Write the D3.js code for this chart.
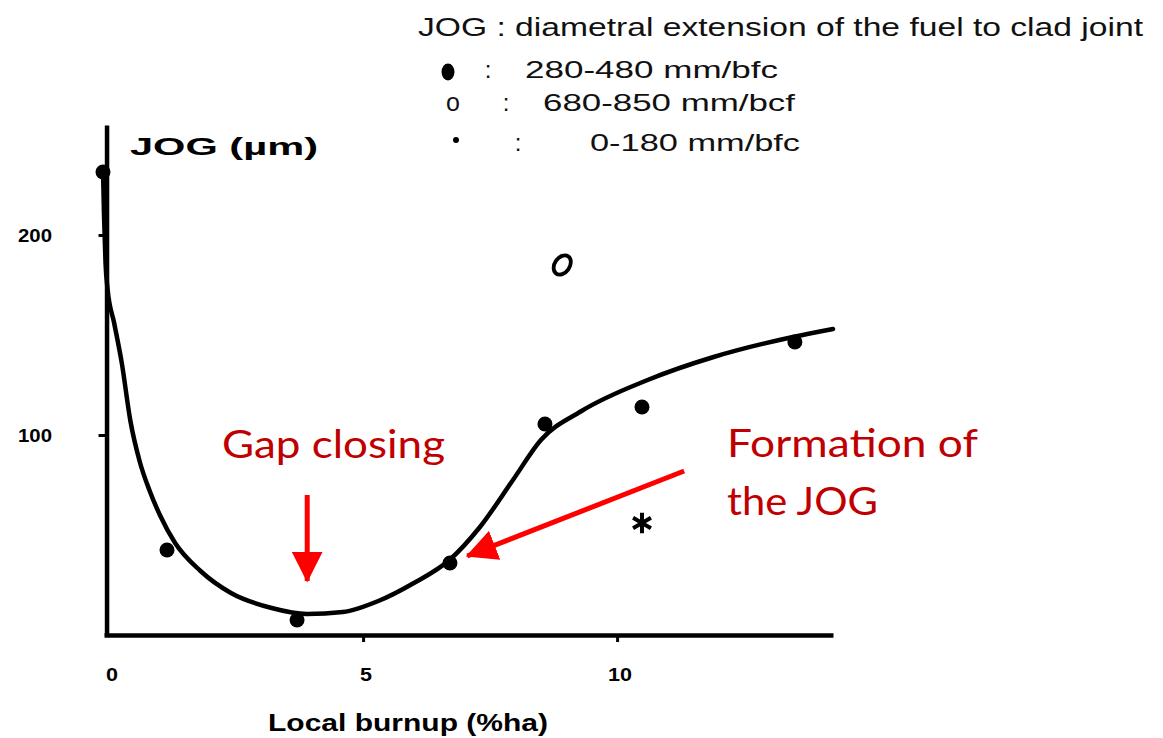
<!DOCTYPE html>
<html>
<head>
<meta charset="utf-8">
<script src="https://cdn.jsdelivr.net/npm/d3@7"></script>
<style>
  body { margin: 0; background: #fff; }
  svg { display: block; }
</style>
</head>
<body>
<div id="chart"></div>
<script>
// measured points, 280-480 mm/bfc
const burnupFilled = [-0.12, 1.14, 3.70, 6.71, 8.58, 10.49, 13.5];
const jogFilled = [231.5, 42.5, 7.5, 36, 105.5, 114, 146.5];
// 680-850 mm/bcf
const burnupOpen = [8.92];
const jogOpen = [185];
// 0-180 mm/bfc
const burnupStar = [10.49];
const jogStar = [56];
// hand drawn trend curve
const curveX = [-0.12, -0.1, -0.07, -0.03, 0.1, 0.25, 0.42, 0.6, 0.8, 1.0, 1.3, 1.8, 2.4, 3.2, 3.9, 4.6, 5.3, 6.0, 6.7, 7.3, 7.95, 8.5, 9.3, 10.6, 11.9, 13.46, 14.25];
const curveY = [233, 210, 186, 173, 156, 136, 107, 87, 72, 60, 46, 32, 21, 13.5, 10.5, 11.5, 17, 26, 37.5, 54, 77.5, 97.5, 112, 127.5, 139, 149, 153];
const xTicks = [0, 5, 10];
const yTicks = [100, 200];
const legendLines = ["280-480 mm/bfc", "680-850 mm/bcf", "0-180 mm/bfc"];

const width = 1163, height = 738;

const svg = d3.select("#chart").append("svg")
  .attr("width", width)
  .attr("height", height);

const x = d3.scaleLinear().domain([-0.1, 14.25]).range([104, 833]);
const y = d3.scaleLinear().domain([0, 255]).range([635, 125]);

// axes (drawn as plain thick lines like the scanned figure)
const xAxis = svg.append("g")
  .attr("transform", `translate(0,${y(0)})`)
  .call(d3.axisBottom(x).tickValues([5, 10]).tickSize(7).tickSizeOuter(0).tickFormat(""));
xAxis.select(".domain").attr("stroke", "#000").attr("stroke-width", 4.5);
xAxis.selectAll(".tick line").attr("stroke", "#000").attr("stroke-width", 3);

const yAxis = svg.append("g")
  .attr("transform", `translate(${x(-0.05)},0)`)
  .call(d3.axisLeft(y).tickValues(yTicks).tickSize(8).tickSizeOuter(0).tickFormat(""));
yAxis.select(".domain").attr("stroke", "#000").attr("stroke-width", 4.5);
yAxis.selectAll(".tick line").attr("stroke", "#000").attr("stroke-width", 3);

// tick labels
svg.append("g").selectAll("text")
  .data(xTicks)
  .enter()
  .append("text")
  .attr("x", d => x(d) + 3)
  .attr("y", 681)
  .attr("text-anchor", "middle")
  .attr("font-family", "Liberation Sans, Arial, sans-serif")
  .attr("font-weight", "bold")
  .attr("font-size", 19)
  .attr("textLength", d => String(d).length * 12)
  .attr("lengthAdjust", "spacingAndGlyphs")
  .text(d => d);

svg.append("g").selectAll("text")
  .data(yTicks)
  .enter()
  .append("text")
  .attr("x", 35)
  .attr("y", d => y(d) + 7)
  .attr("text-anchor", "middle")
  .attr("font-family", "Liberation Sans, Arial, sans-serif")
  .attr("font-weight", "bold")
  .attr("font-size", 18)
  .attr("textLength", 34)
  .attr("lengthAdjust", "spacingAndGlyphs")
  .text(d => d);

// axis titles
svg.append("text")
  .attr("x", 130)
  .attr("y", 155)
  .attr("font-family", "Liberation Sans, Arial, sans-serif")
  .attr("font-weight", "bold")
  .attr("font-size", 24)
  .attr("textLength", 188)
  .attr("lengthAdjust", "spacingAndGlyphs")
  .text("JOG (µm)");

svg.append("text")
  .attr("x", 268)
  .attr("y", 731)
  .attr("font-family", "Liberation Sans, Arial, sans-serif")
  .attr("font-weight", "bold")
  .attr("font-size", 24)
  .attr("textLength", 280)
  .attr("lengthAdjust", "spacingAndGlyphs")
  .text("Local burnup (%ha)");

// trend curve
const curvePts = curveX.map((d, i) => [d, curveY[i]]);
svg.append("path")
  .datum(curvePts)
  .attr("fill", "none")
  .attr("stroke", "#000")
  .attr("stroke-width", 4.5)
  .attr("stroke-linecap", "round")
  .attr("d", d3.line().x(d => x(d[0])).y(d => y(d[1])).curve(d3.curveMonotoneX));

// data points
svg.append("g").selectAll("circle")
  .data(burnupFilled.map((d, i) => ({ b: d, j: jogFilled[i] })))
  .enter()
  .append("circle")
  .attr("cx", d => x(d.b))
  .attr("cy", d => y(d.j))
  .attr("r", 7.5)
  .attr("fill", "#000");

svg.append("g").selectAll("ellipse")
  .data(burnupOpen.map((d, i) => ({ b: d, j: jogOpen[i] })))
  .enter()
  .append("ellipse")
  .attr("transform", d => `translate(${x(d.b)},${y(d.j)}) rotate(35)`)
  .attr("rx", 7.5)
  .attr("ry", 10.5)
  .attr("fill", "none")
  .attr("stroke", "#000")
  .attr("stroke-width", 3.8);

svg.append("g").selectAll("path")
  .data(burnupStar.map((d, i) => ({ b: d, j: jogStar[i] })))
  .enter()
  .append("path")
  .attr("transform", d => `translate(${x(d.b)},${y(d.j)})`)
  .attr("d", d3.symbol(d3.symbolAsterisk, 300))
  .attr("fill", "none")
  .attr("stroke", "#000")
  .attr("stroke-width", 4);

// legend block
const legend = svg.append("g")
  .attr("font-family", "Liberation Sans, Arial, sans-serif")
  .attr("fill", "#111");

legend.append("text")
  .attr("x", 418)
  .attr("y", 36)
  .attr("font-size", 25)
  .attr("textLength", 725)
  .attr("lengthAdjust", "spacingAndGlyphs")
  .text("JOG : diametral extension of the fuel to clad joint");

const rowY = [78, 111, 151];
const rowX = [525, 543, 590];
const rowW = [253, 252, 210];
const colonX = [488, 506, 518];

legend.selectAll(".lbl")
  .data(legendLines)
  .enter()
  .append("text")
  .attr("class", "lbl")
  .attr("x", (d, i) => rowX[i])
  .attr("y", (d, i) => rowY[i])
  .attr("font-size", 24)
  .attr("textLength", (d, i) => rowW[i])
  .attr("lengthAdjust", "spacingAndGlyphs")
  .text(d => d);

legend.selectAll(".colon")
  .data(legendLines)
  .enter()
  .append("text")
  .attr("class", "colon")
  .attr("x", (d, i) => colonX[i])
  .attr("y", (d, i) => rowY[i])
  .attr("font-size", 24)
  .attr("text-anchor", "middle")
  .text(":");

legend.append("ellipse")
  .attr("cx", 448)
  .attr("cy", 72)
  .attr("rx", 6.5)
  .attr("ry", 8.5)
  .attr("fill", "#000");

legend.append("text")
  .attr("x", 453)
  .attr("y", 111)
  .attr("text-anchor", "middle")
  .attr("font-size", 25)
  .text("o");

legend.append("circle")
  .attr("cx", 456)
  .attr("cy", 140)
  .attr("r", 3)
  .attr("fill", "#000");

// red annotations
const red = "#FF0000", darkRed = "#C00000";
svg.append("defs").append("marker")
  .attr("id", "head")
  .attr("viewBox", "0 0 10 10")
  .attr("refX", 9.5)
  .attr("refY", 5)
  .attr("markerWidth", 6.2)
  .attr("markerHeight", 6.2)
  .attr("markerUnits", "strokeWidth")
  .attr("orient", "auto")
  .append("path")
  .attr("d", "M0,0 L10,5 L0,10 Z")
  .attr("fill", red);

const arrows = [
  { x1: 3.9, y1: 70, x2: 3.9, y2: 27 },
  { x1: 11.32, y1: 82, x2: 7.05, y2: 39.5 }
];
svg.append("g").selectAll("line")
  .data(arrows)
  .enter()
  .append("line")
  .attr("x1", d => x(d.x1))
  .attr("y1", d => y(d.y1))
  .attr("x2", d => x(d.x2))
  .attr("y2", d => y(d.y2))
  .attr("stroke", red)
  .attr("stroke-width", 5)
  .attr("marker-end", "url(#head)");

const notes = [
  { t: "Gap closing", bx: 222, by: 458, w: 223 },
  { t: "Formation of", bx: 727, by: 457, w: 251 },
  { t: "the JOG", bx: 727, by: 515, w: 151 }
];
svg.append("g").selectAll("text")
  .data(notes)
  .enter()
  .append("text")
  .attr("x", d => d.bx)
  .attr("y", d => d.by)
  .attr("font-family", "Lato, 'Open Sans', sans-serif")
  .attr("font-size", 39)
  .attr("fill", darkRed)
  .attr("textLength", d => d.w)
  .attr("lengthAdjust", "spacingAndGlyphs")
  .text(d => d.t);
</script>
</body>
</html>
